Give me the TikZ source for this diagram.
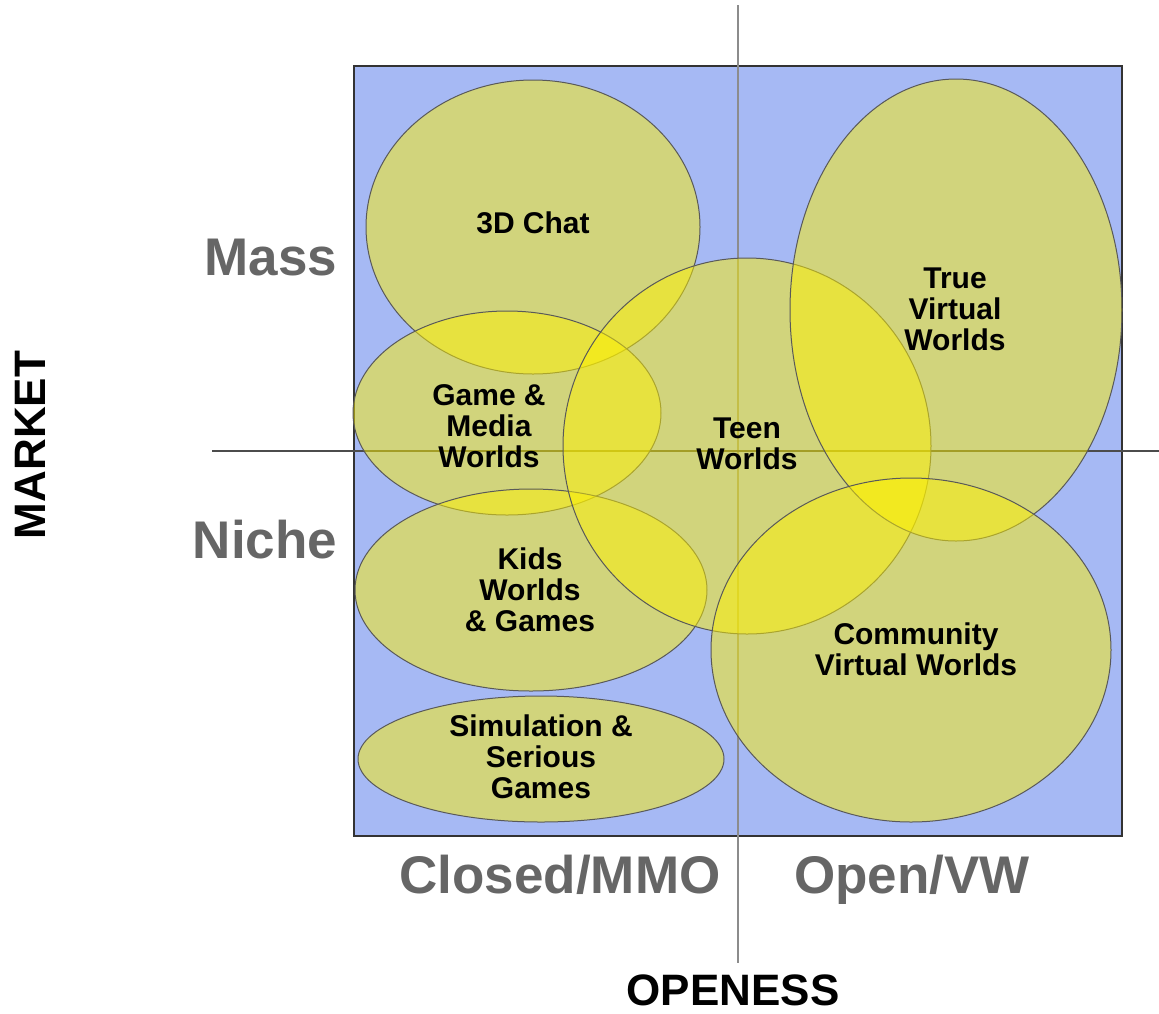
\documentclass[tikz,border=0pt]{standalone}
\usepackage{fontspec}
\setmainfont{Liberation Sans}
\begin{document}
\begin{tikzpicture}[x=1pt,y=-1pt,
  bubble/.style={fill=yellow, fill opacity=0.49, draw=black!65, line width=1pt, draw opacity=1},
  blab/.style={font=\bfseries\fontsize{30}{31}\selectfont, align=center, text=black},
  axlab/.style={font=\bfseries\fontsize{53}{58}\selectfont, text=black!60, anchor=base},
  titlab/.style={font=\bfseries\fontsize{44}{48}\selectfont, text=black}]
\useasboundingbox (0,0) rectangle (1159,1013);
\fill[white] (0,0) rectangle (1159,1013);
\definecolor{bgblue}{HTML}{A6B9F4}
\node[draw=black!80, line width=1.5pt, fill=bgblue, minimum width=768pt, minimum height=770pt, inner sep=0pt] (box) at (738,451) {};
\coordinate (vtop) at (738,5);
\coordinate (vbot) at (738,963);
\coordinate (hl) at (212,451);
\coordinate (hr) at (1159,451);
\draw[black!45, line width=1.2pt] (vtop) -- (vbot);
\draw[black!70, line width=1.2pt] (hl) -- (hr);
\draw[bubble] (533,227) ellipse [x radius=167, y radius=147];
\draw[bubble] (507,413) ellipse [x radius=154, y radius=102];
\draw[bubble] (531,590) ellipse [x radius=176, y radius=101];
\draw[bubble] (541,759) ellipse [x radius=183, y radius=63];
\draw[bubble] (747,446) ellipse [x radius=184, y radius=188];
\draw[bubble] (956,310) ellipse [x radius=166, y radius=231];
\draw[bubble] (911,650) ellipse [x radius=200, y radius=172];
\node[blab] (chat) at (533,223) {3D Chat};
\node[blab] (game) at (489,426) {Game \&\\Media\\Worlds};
\node[blab] (teen) at (747,444) {Teen\\Worlds};
\node[blab] (tvw) at (955,309) {True\\Virtual\\Worlds};
\node[blab] (kids) at (530,590) {Kids\\Worlds\\\& Games};
\node[blab] (sim) at (541,757) {Simulation \&\\Serious\\Games};
\node[blab] (comm) at (916,649) {Community\\Virtual Worlds};
\node[axlab] (mass) at (271,275) {Mass};
\node[axlab] (niche) at (265,558) {Niche};
\node[axlab] (closed) at (560,893) {Closed/MMO};
\node[axlab] (open) at (912,893) {Open/VW};
\node[titlab, rotate=90] (market) at (30,445) {MARKET};
\node[titlab] (openess) at (733,990) {OPENESS};
\end{tikzpicture}
\end{document}
